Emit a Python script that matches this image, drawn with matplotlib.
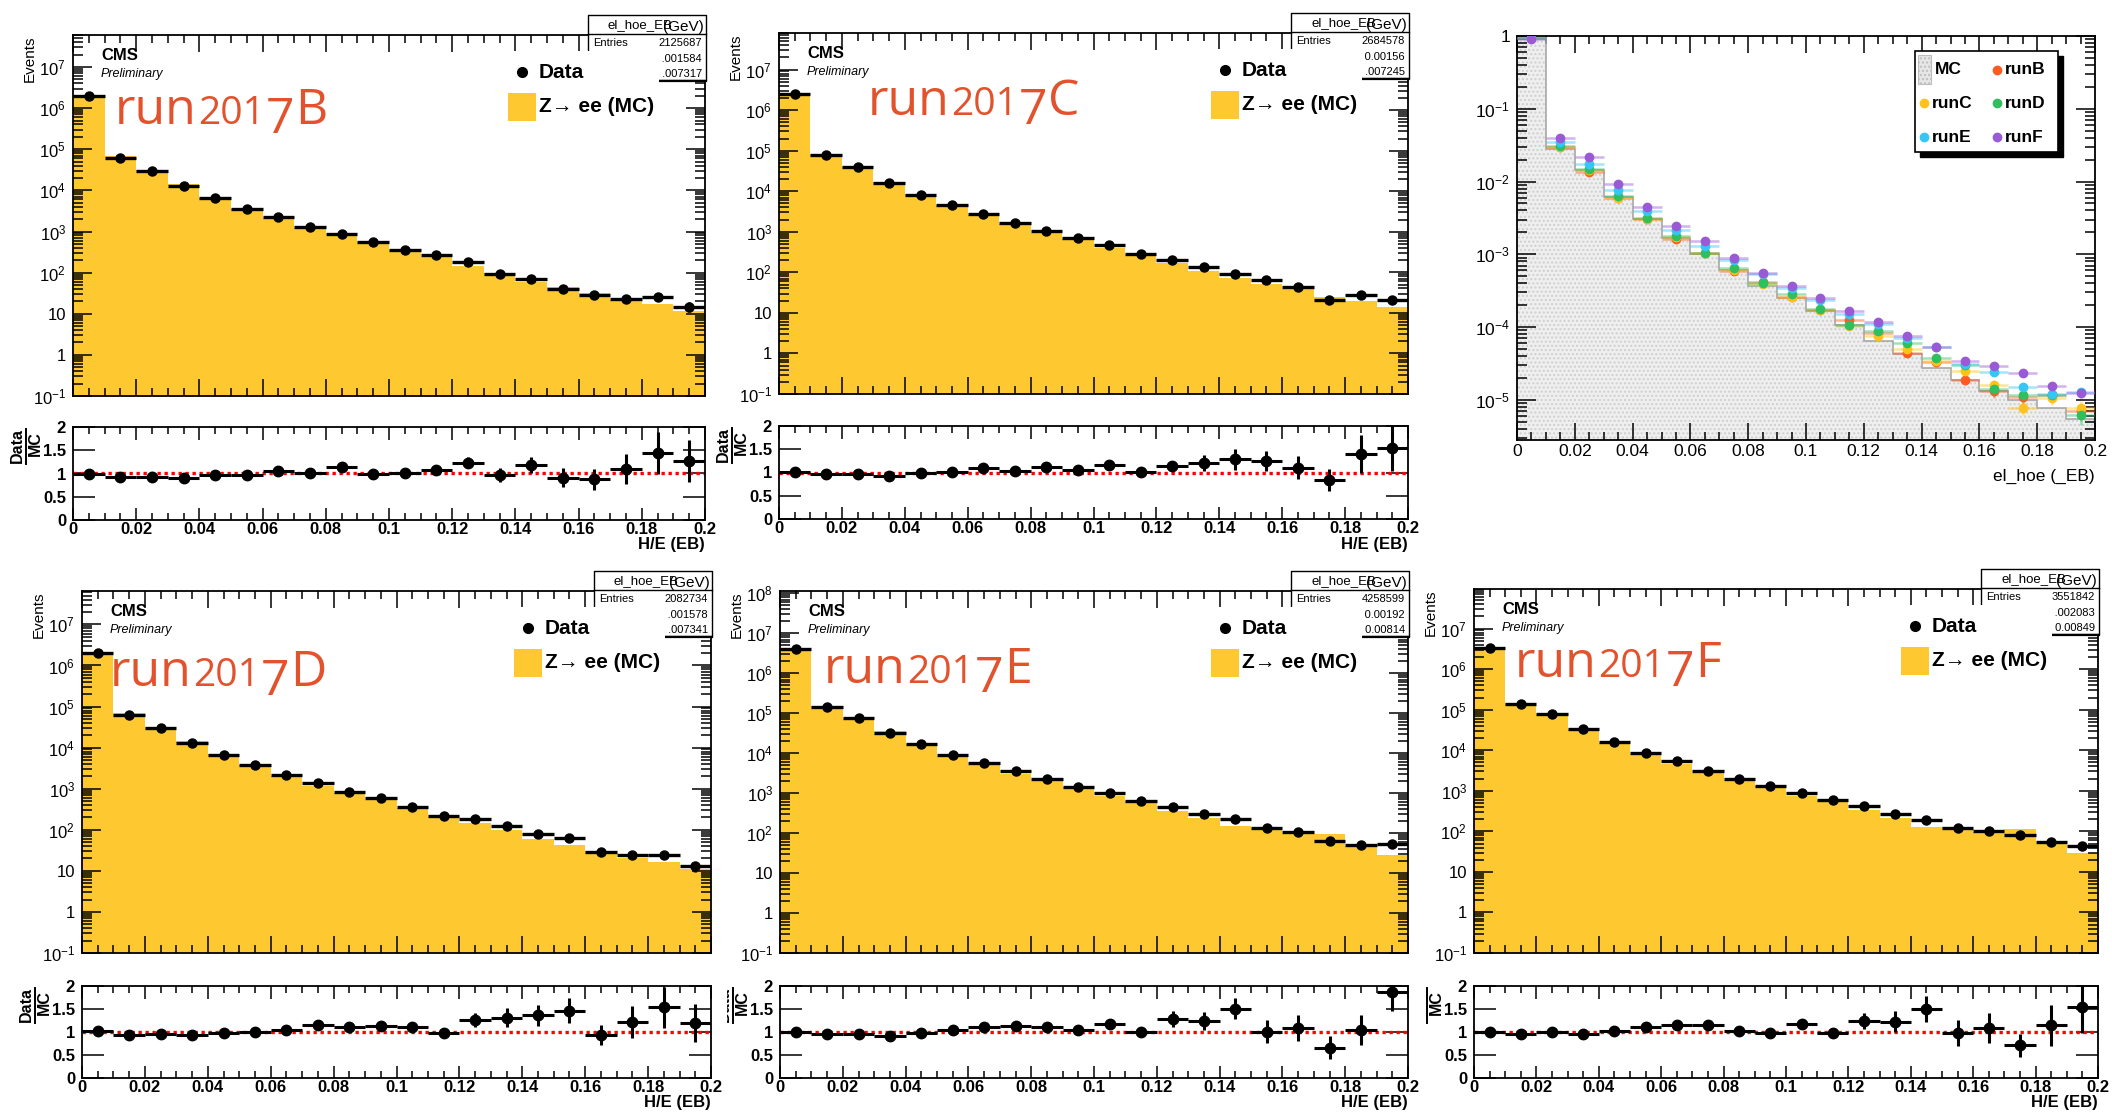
import numpy as np
import matplotlib
matplotlib.use("Agg")
import matplotlib.pyplot as plt
from matplotlib.patches import Rectangle
from matplotlib.lines import Line2D
from matplotlib.ticker import MultipleLocator, LogLocator, FuncFormatter, NullFormatter, FixedLocator
from matplotlib.transforms import Bbox, TransformedBbox
from matplotlib.colors import to_rgba

plt.rcParams['font.family'] = ['Liberation Sans', 'DejaVu Sans']
plt.rcParams['mathtext.fontset'] = 'custom'
plt.rcParams['mathtext.rm'] = 'Liberation Sans'
plt.rcParams['mathtext.bf'] = 'Liberation Sans:bold'
plt.rcParams['mathtext.it'] = 'Liberation Sans:italic'
plt.rcParams['axes.linewidth'] = 1.3

W, H = 2112, 1114
fig = plt.figure(figsize=(W / 100, H / 100), dpi=100)
fig.patch.set_facecolor('white')
renderer = fig.canvas.get_renderer()

# H/E binning: 20 bins of width 0.01 between 0 and 0.2
bin_edges = np.linspace(0.0, 0.2, 21)
bin_centers = 0.5 * (bin_edges[:-1] + bin_edges[1:])
half_width = 0.005

# ---------------- per-run data (events per bin), MC expectation, ratio errors
data_B = [2.00e6, 6.3e4, 2.9e4, 1.27e4, 6.4e3, 3.5e3, 2.2e3, 1.26e3, 880, 550,
          360, 263, 178, 93, 71, 40, 28, 23, 25, 15]
mc_B = [2.02e6, 6.85e4, 3.15e4, 1.41e4, 6.67e3, 3.61e3, 2.08e3, 1.25e3, 765, 556,
        356, 246, 144, 97, 60, 44, 32, 21, 17.4, 11.8]
rerr_B = [0.02, 0.02, 0.02, 0.02, 0.03, 0.03, 0.04, 0.04, 0.05, 0.05,
          0.06, 0.07, 0.12, 0.15, 0.17, 0.2, 0.22, 0.32, 0.45, 0.45]

data_C = [2.53e6, 7.9e4, 3.9e4, 1.6e4, 8.3e3, 4.6e3, 2.8e3, 1.62e3, 1.05e3, 690,
          466, 280, 200, 132, 91, 66, 43, 21, 28, 21]
mc_C = [2.48e6, 8.23e4, 4.06e4, 1.72e4, 8.47e3, 4.55e3, 2.57e3, 1.56e3, 938, 651,
        405, 275, 174, 110, 71, 53, 39, 25, 20, 13.8]
rerr_C = [0.02, 0.02, 0.02, 0.02, 0.03, 0.03, 0.04, 0.04, 0.05, 0.05,
          0.06, 0.07, 0.1, 0.17, 0.22, 0.22, 0.25, 0.23, 0.4, 0.5]

data_D = [1.96e6, 6.4e4, 3.08e4, 1.32e4, 6.6e3, 3.73e3, 2.14e3, 1.37e3, 850, 590,
          365, 220, 183, 126, 79, 63, 29, 24.6, 24.6, 13]
mc_D = [1.92e6, 6.88e4, 3.21e4, 1.42e4, 6.8e3, 3.77e3, 2.04e3, 1.19e3, 773, 522,
        332, 227, 145, 96, 58, 43, 31, 20.3, 16, 10.9]
rerr_D = [0.02, 0.02, 0.02, 0.02, 0.03, 0.03, 0.04, 0.04, 0.05, 0.05,
          0.06, 0.06, 0.16, 0.21, 0.23, 0.28, 0.22, 0.35, 0.45, 0.42]

data_E = [3.96e6, 1.47e5, 7.5e4, 3.3e4, 1.69e4, 9.1e3, 5.6e3, 3.5e3, 2.28e3, 1.47e3,
          1000, 645, 464, 300, 224, 133, 104, 64, 51, 54]
mc_E = [4.0e6, 1.55e5, 7.8e4, 3.63e4, 1.72e4, 8.75e3, 5.05e3, 3.07e3, 2.05e3, 1.41e3,
        847, 652, 360, 242, 149, 132, 95, 97, 49, 29]
rerr_E = [0.02, 0.02, 0.02, 0.02, 0.03, 0.03, 0.03, 0.04, 0.04, 0.05,
          0.08, 0.05, 0.17, 0.2, 0.23, 0.25, 0.28, 0.25, 0.33, 0.4]

data_F = [3.26e6, 1.42e5, 7.7e4, 3.3e4, 1.58e4, 8.7e3, 5.4e3, 3.16e3, 1.95e3, 1.29e3,
          890, 590, 415, 265, 187, 123, 102, 83, 55, 44.5]
mc_F = [3.26e6, 1.48e5, 7.7e4, 3.44e4, 1.55e4, 7.9e3, 4.66e3, 2.72e3, 1.89e3, 1.32e3,
        754, 602, 335, 217, 125, 126, 94, 117, 48, 29]
rerr_F = [0.02, 0.02, 0.02, 0.02, 0.03, 0.03, 0.03, 0.04, 0.04, 0.05,
          0.1, 0.05, 0.17, 0.23, 0.28, 0.28, 0.33, 0.25, 0.45, 0.55]

run_names = ["run2017B", "run2017C", "run2017D", "run2017E", "run2017F"]
entries = [2125687, 2684578, 2082734, 4258599, 3551842]
mean_text = [".001584", "0.00156", ".001578", "0.00192", ".002083"]
std_text = [".007317", ".007245", ".007341", "0.00814", "0.00849"]

# normalised MC shape shown in the comparison panel
mc_shape = [0.93, 0.028, 0.0145, 0.0062, 0.0031, 0.0017, 0.00102, 0.00060, 0.00037, 0.00025,
            0.000165, 0.000105, 6.5e-5, 4.3e-5, 2.75e-5, 1.85e-5, 1.3e-5, 1.0e-5, 7.8e-6, 5.5e-6]

YELLOW = "#fdc830"
TITLE_RED = "#e2532d"
RUN_COLORS = {"runB": "#ff5a1f", "runC": "#ffc21a", "runD": "#2fbf5f",
              "runE": "#36c6f4", "runF": "#9a5ad6"}


# ---------------- helpers (pixel coordinates, origin top-left)
def fx(x):
    return x / W


def fy(y):
    return 1 - y / H


def px_axes(box):
    l, t, r, b = box
    return fig.add_axes([l / W, 1 - b / H, (r - l) / W, (b - t) / H])


def ftext(x, y, s, **kw):
    return fig.text(fx(x), fy(y), s, **kw)


def frect(x0, y0, x1, y1, **kw):
    p = Rectangle((fx(x0), fy(y1)), (x1 - x0) / W, (y1 - y0) / H,
                  transform=fig.transFigure, **kw)
    fig.add_artist(p)
    return p


def fline(xs, ys, **kw):
    ln = Line2D([fx(v) for v in xs], [fy(v) for v in ys], transform=fig.transFigure, **kw)
    fig.add_artist(ln)
    return ln


def clip_left(artist, x_px):
    artist.set_clip_box(TransformedBbox(Bbox.from_extents(fx(x_px), 0, 1, 1),
                                        fig.transFigure))
    artist.set_clip_on(True)


def oldstyle_title(x, y, word, size):
    """Run label with old-style figures: small digits, descending 7."""
    head, digits, tail = word[:3], word[3:7], word[7:]
    em = size * 100 / 72
    pieces = [(head, size, 0.0), (digits[:3], size * 0.78, 0.0),
              (digits[3], size, 0.18 * em), (tail, size, 0.0)]
    cur = x
    for s, fs, drop in pieces:
        t = ftext(cur, y + drop, s, color=TITLE_RED, fontsize=fs,
                  family='Open Sans', va='baseline', ha='left')
        cur += t.get_window_extent(renderer).width + 1


def log_label(v, pos):
    if v <= 0:
        return ''
    e = np.log10(v)
    n = int(round(e))
    if abs(e - n) > 1e-6:
        return ''
    if n == 0:
        return '1'
    if n == 1:
        return '10'
    return r'$10^{%d}$' % n


def style_x(ax):
    ax.set_xlim(0, 0.2)
    ax.xaxis.set_major_locator(MultipleLocator(0.02))
    ax.xaxis.set_minor_locator(MultipleLocator(0.005))


def style_log_y(ax, ymin, ymax):
    ax.set_yscale('log')
    ax.set_ylim(ymin, ymax)
    ax.yaxis.set_major_locator(LogLocator(base=10, numticks=30))
    ax.yaxis.set_minor_locator(LogLocator(base=10, subs=np.arange(2, 10), numticks=30))
    ax.yaxis.set_major_formatter(FuncFormatter(log_label))
    ax.yaxis.set_minor_formatter(NullFormatter())


def root_ticks(ax, ymaj=12, ymin_len=6, xmaj=11, xmin_len=6, fs=12, xpad=5):
    ax.tick_params(which='both', direction='in', top=True, right=True,
                   width=1.1, labelsize=fs, pad=5)
    ax.tick_params(axis='x', which='both', pad=xpad)
    ax.tick_params(axis='y', which='major', length=ymaj)
    ax.tick_params(axis='y', which='minor', length=ymin_len)
    ax.tick_params(axis='x', which='major', length=xmaj)
    ax.tick_params(axis='x', which='minor', length=xmin_len)


def run_panel(name, data, mc, rerr, n_entries, mean_s, std_s, ymax,
              main_box, ratio_box, lab_off, clip_x=None):
    data = np.asarray(data, dtype=float)
    mc = np.asarray(mc, dtype=float)
    l, t, r, b = main_box

    ax = px_axes(main_box)
    ax.stairs(mc, bin_edges, baseline=1e-3, fill=True, color=YELLOW, lw=0, zorder=1)
    ax.errorbar(bin_centers, data, xerr=half_width, yerr=np.sqrt(data), fmt='o',
                ms=6.5, color='black', elinewidth=2.4, capsize=0, zorder=3)
    style_x(ax)
    style_log_y(ax, 0.1, ymax)
    ax.xaxis.set_major_formatter(NullFormatter())
    root_ticks(ax, ymaj=14, ymin_len=7, xmaj=12, xmin_len=6, fs=12)

    ftext(l - 43, t, 'Events', rotation=90, ha='center', va='top', fontsize=11)
    ftext(l + 28, t + 20, 'CMS', fontweight='bold', fontsize=12, va='center')
    ftext(l + 28, t + 39, 'Preliminary', style='italic', fontsize=9, va='center')
    oldstyle_title(l + lab_off[0], t + lab_off[1], name, 36)

    # statistics box
    frect(r - 117, t - 20, r + 1, t + 45, facecolor='white', edgecolor='none', zorder=5)
    fline([r - 117, r + 1, r + 1, r - 117, r - 117], [t + 45, t + 45, t - 20, t - 20, t + 45],
          color='black', lw=1.0, zorder=6)
    fline([r - 117, r + 1], [t - 1, t - 1], color='black', lw=1.0, zorder=6)
    fline([r - 60, r + 1], [t + 46, t + 46], color='black', lw=1.6, zorder=6)
    ftext(r - 97, t - 10, 'el_hoe_EB', ha='left', va='center', fontsize=9.5, zorder=7)
    ftext(r - 1, t - 8, '(GeV)', ha='right', va='center', fontsize=11, zorder=7)
    ftext(r - 112, t + 8, 'Entries', ha='left', va='center', fontsize=8, zorder=7)
    ftext(r - 3, t + 8, f'{n_entries}', ha='right', va='center', fontsize=8, zorder=7)
    ftext(r - 3, t + 24, 'Mean      ' + mean_s, ha='right', va='center', fontsize=8, zorder=7)
    ftext(r - 3, t + 39, 'Std Dev   ' + std_s, ha='right', va='center', fontsize=8, zorder=7)

    # legend (drawn over the left part of the statistics box)
    frect(r - 205, t + 16, r - 46, t + 88, facecolor='white', edgecolor='none', zorder=8)
    fline([r - 183], [t + 37], marker='o', ms=7, color='black', lw=0, zorder=9)
    ftext(r - 166, t + 37, 'Data', fontweight='bold', fontsize=15, va='center', zorder=9)
    frect(r - 197, t + 58, r - 169, t + 86, facecolor=YELLOW, edgecolor='none', zorder=9)
    ftext(r - 166, t + 72, 'Z\u2192 ee (MC)', fontweight='bold', fontsize=15,
          va='center', zorder=9)

    # ratio panel
    rl, rt, rr, rb = ratio_box
    rx = px_axes(ratio_box)
    ratio = data / mc
    rx.axhline(1.0, color='red', ls=(0, (1, 1.1)), lw=2.4, zorder=2)
    rx.errorbar(bin_centers, ratio, xerr=half_width, yerr=rerr, fmt='o', ms=7.5,
                color='black', elinewidth=2.2, capsize=0, zorder=3)
    style_x(rx)
    rx.set_ylim(0, 2)
    rx.yaxis.set_major_locator(FixedLocator([0, 0.5, 1, 1.5, 2]))
    rx.yaxis.set_minor_locator(FixedLocator([]))
    rx.xaxis.set_major_formatter(FuncFormatter(lambda v, p: f'{v:g}'))
    rx.yaxis.set_major_formatter(FuncFormatter(lambda v, p: f'{v:g}'))
    root_ticks(rx, ymaj=16, ymin_len=0, xmaj=9, xmin_len=5, fs=12, xpad=1.5)
    for lab in rx.get_xticklabels() + rx.get_yticklabels():
        lab.set_fontweight('bold')

    # "Data over MC" axis title, written as a stacked fraction
    num = ftext(rl - 56, rt + 1, 'Data', rotation=90, ha='center', va='top',
                fontweight='bold', fontsize=11.5)
    bar = fline([rl - 47, rl - 47], [rt + 2, rt + 37], color='black', lw=1.4)
    den = ftext(rl - 38, rt + 4, 'MC', rotation=90, ha='center', va='top',
                fontweight='bold', fontsize=11.5)
    if clip_x is not None:
        for art in (num, bar, den):
            clip_left(art, clip_x)
    ftext(rr, rb + 25, 'H/E (EB)', ha='right', va='center', fontweight='bold', fontsize=12)


# ---------------- the five run panels
run_panel(run_names[0], data_B, mc_B, rerr_B, entries[0], mean_text[0], std_text[0], 6e7,
          (73, 35, 705, 396), (73, 427, 705, 520), (42, 89))
run_panel(run_names[1], data_C, mc_C, rerr_C, entries[1], mean_text[1], std_text[1], 8e7,
          (779, 33, 1408, 394), (779, 426, 1408, 519), (89, 82))
run_panel(run_names[2], data_D, mc_D, rerr_D, entries[2], mean_text[2], std_text[2], 6.5e7,
          (82, 591, 711, 953), (82, 986, 711, 1078), (28, 95))
run_panel(run_names[3], data_E, mc_E, rerr_E, entries[3], mean_text[3], std_text[3], 1.15e8,
          (780, 591, 1408, 953), (780, 986, 1408, 1078), (44, 92), clip_x=727)
run_panel(run_names[4], data_F, mc_F, rerr_F, entries[4], mean_text[4], std_text[4], 9.5e7,
          (1474, 589, 2098, 953), (1474, 986, 2098, 1078), (41, 88), clip_x=1425)

# ---------------- normalised comparison of all runs
ov = px_axes((1517, 36, 2095, 440))
ov.stairs(mc_shape, bin_edges, baseline=1e-9, fill=True, facecolor='#efefef',
          edgecolor='#cfcfcf', hatch='....', lw=0, zorder=1)
ov.stairs(mc_shape, bin_edges, baseline=None, color='#a8a8a8', lw=1.2, zorder=2)
run_series = [("runB", data_B, entries[0]), ("runC", data_C, entries[1]),
              ("runD", data_D, entries[2]), ("runE", data_E, entries[3]),
              ("runF", data_F, entries[4])]
for key, counts, n_tot in run_series:
    counts = np.asarray(counts, dtype=float)
    col = RUN_COLORS[key]
    ov.errorbar(bin_centers, counts / n_tot, xerr=half_width, yerr=np.sqrt(counts) / n_tot,
                fmt='o', ms=6, color=col, ecolor=to_rgba(col, 0.45), elinewidth=1.8,
                capsize=0, zorder=3)
style_x(ov)
style_log_y(ov, 2.8e-6, 1.0)
ov.xaxis.set_major_formatter(FuncFormatter(lambda v, p: f'{v:g}'))
root_ticks(ov, ymaj=14, ymin_len=7, xmaj=12, xmin_len=6, fs=12.5, xpad=3)
ftext(2095, 476, 'el_hoe (_EB)', ha='right', va='center', fontsize=12.5)

# legend with drop shadow
lx0, ly0, lx1, ly1 = 1915, 51, 2058, 152
frect(lx0 + 5, ly0 + 5, lx1 + 5, ly1 + 5, facecolor='black', edgecolor='black', zorder=5)
frect(lx0, ly0, lx1, ly1, facecolor='white', edgecolor='black', lw=1.2, zorder=6)
frect(1918, 55, 1931, 84, facecolor='#e6e6e6', edgecolor='#bdbdbd', lw=0.8,
      hatch='....', zorder=7)
ftext(1935, 70, 'MC', fontweight='bold', fontsize=12.5, va='center', zorder=7)
legend_slots = [("runB", 1997, 70), ("runC", 1924, 103), ("runD", 1997, 103),
                ("runE", 1924, 137), ("runF", 1997, 137)]
for key, mx, my in legend_slots:
    fline([mx], [my], marker='o', ms=6, color=RUN_COLORS[key], lw=0, zorder=7)
    ftext(mx + 8, my, key, fontweight='bold', fontsize=12.5, va='center', zorder=7)

fig.savefig('out.png', dpi=100, facecolor='white')
